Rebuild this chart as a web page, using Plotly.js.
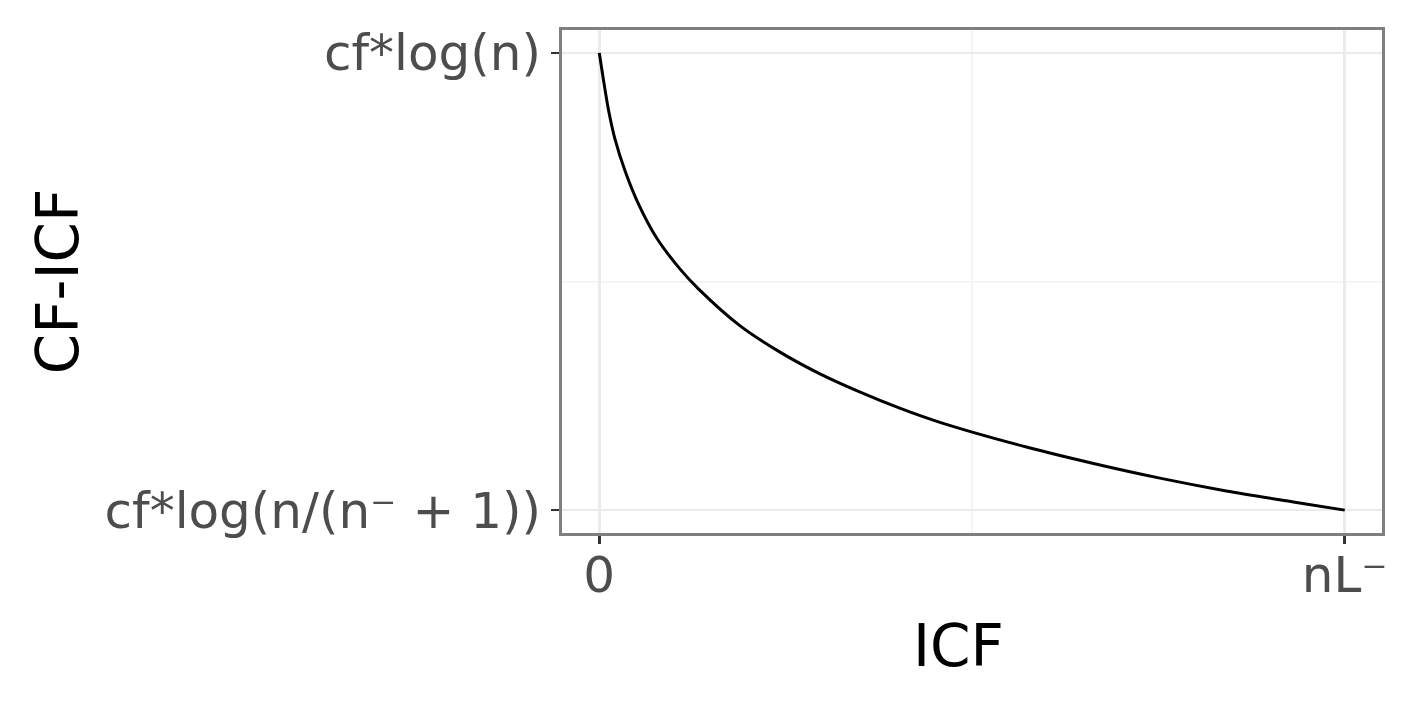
<!DOCTYPE html>
<html>
<head>
<meta charset="utf-8">
<script src="https://cdn.plot.ly/plotly-3.0.1.min.js"></script>
<style>
  html, body { margin: 0; padding: 0; background: #fff; }
  #chartDiv { width: 1418px; height: 708px; }
</style>
</head>
<body>
<div id="chartDiv"></div>
<script>
// curve (ICF scaled 0..nL-, CF-ICF scaled 0..1)
var icf = [0, 0.006, 0.0125, 0.021, 0.035, 0.053, 0.077, 0.109, 0.133, 0.189, 0.243,
    0.296, 0.350, 0.403, 0.457, 0.573, 0.663, 0.752, 0.841, 0.931, 1];
var cfIcf = [1, 0.937, 0.874, 0.812, 0.740, 0.668, 0.595, 0.526, 0.484, 0.403, 0.345,
    0.298, 0.258, 0.223, 0.192, 0.138, 0.102, 0.070, 0.042, 0.018, 0];

// tick positions and labels
var xTickVals = [0, 1];
var xTickText = ['0', 'nL\u207B'];
var yTickVals = [0, 1];
var yTickText = ['cf*log(n/(n\u207B + 1))', 'cf*log(n)'];
var xTitle = 'ICF';
var yTitle = 'CF-ICF';

var data = [{
    x: icf,
    y: cfIcf,
    mode: 'lines',
    type: 'scatter',
    line: {color: '#000000', width: 3, shape: 'spline', smoothing: 0.8},
    hoverinfo: 'skip'
}];

var axisCommon = {
    showline: true,
    mirror: true,
    linecolor: '#7f7f7f',
    linewidth: 3,
    showgrid: true,
    gridcolor: '#ebebeb',
    gridwidth: 2.5,
    zeroline: false,
    ticks: 'outside',
    ticklen: 8,
    tickwidth: 2.5,
    tickcolor: '#333333',
    tickmode: 'array',
    tickfont: {family: 'DejaVu Sans', size: 50, color: '#4d4d4d'},
    minor: {dtick: 0.5, tick0: 0, showgrid: true, gridcolor: '#f5f5f5', gridwidth: 2, ticks: ''}
};

var layout = {
    width: 1418,
    height: 708,
    margin: {l: 562, r: 36, t: 30, b: 175},
    paper_bgcolor: '#ffffff',
    plot_bgcolor: '#ffffff',
    showlegend: false,
    xaxis: Object.assign({}, axisCommon, {
        range: [-0.05, 1.05],
        tickvals: xTickVals,
        ticktext: xTickText,
        ticklabelstandoff: -12
    }),
    yaxis: Object.assign({}, axisCommon, {
        range: [-0.05, 1.05],
        tickvals: yTickVals,
        ticktext: yTickText,
        title: {text: yTitle, font: {family: 'DejaVu Sans', size: 58, color: '#000000'}, standoff: 8}
    }),
    annotations: [{
        text: xTitle,
        xref: 'paper', yref: 'paper',
        x: 0.484, y: -0.225,
        xanchor: 'center', yanchor: 'middle',
        showarrow: false,
        font: {family: 'DejaVu Sans', size: 58, color: '#000000'}
    }]
};

Plotly.newPlot('chartDiv', data, layout, {displayModeBar: false, staticPlot: true});
</script>
</body>
</html>
